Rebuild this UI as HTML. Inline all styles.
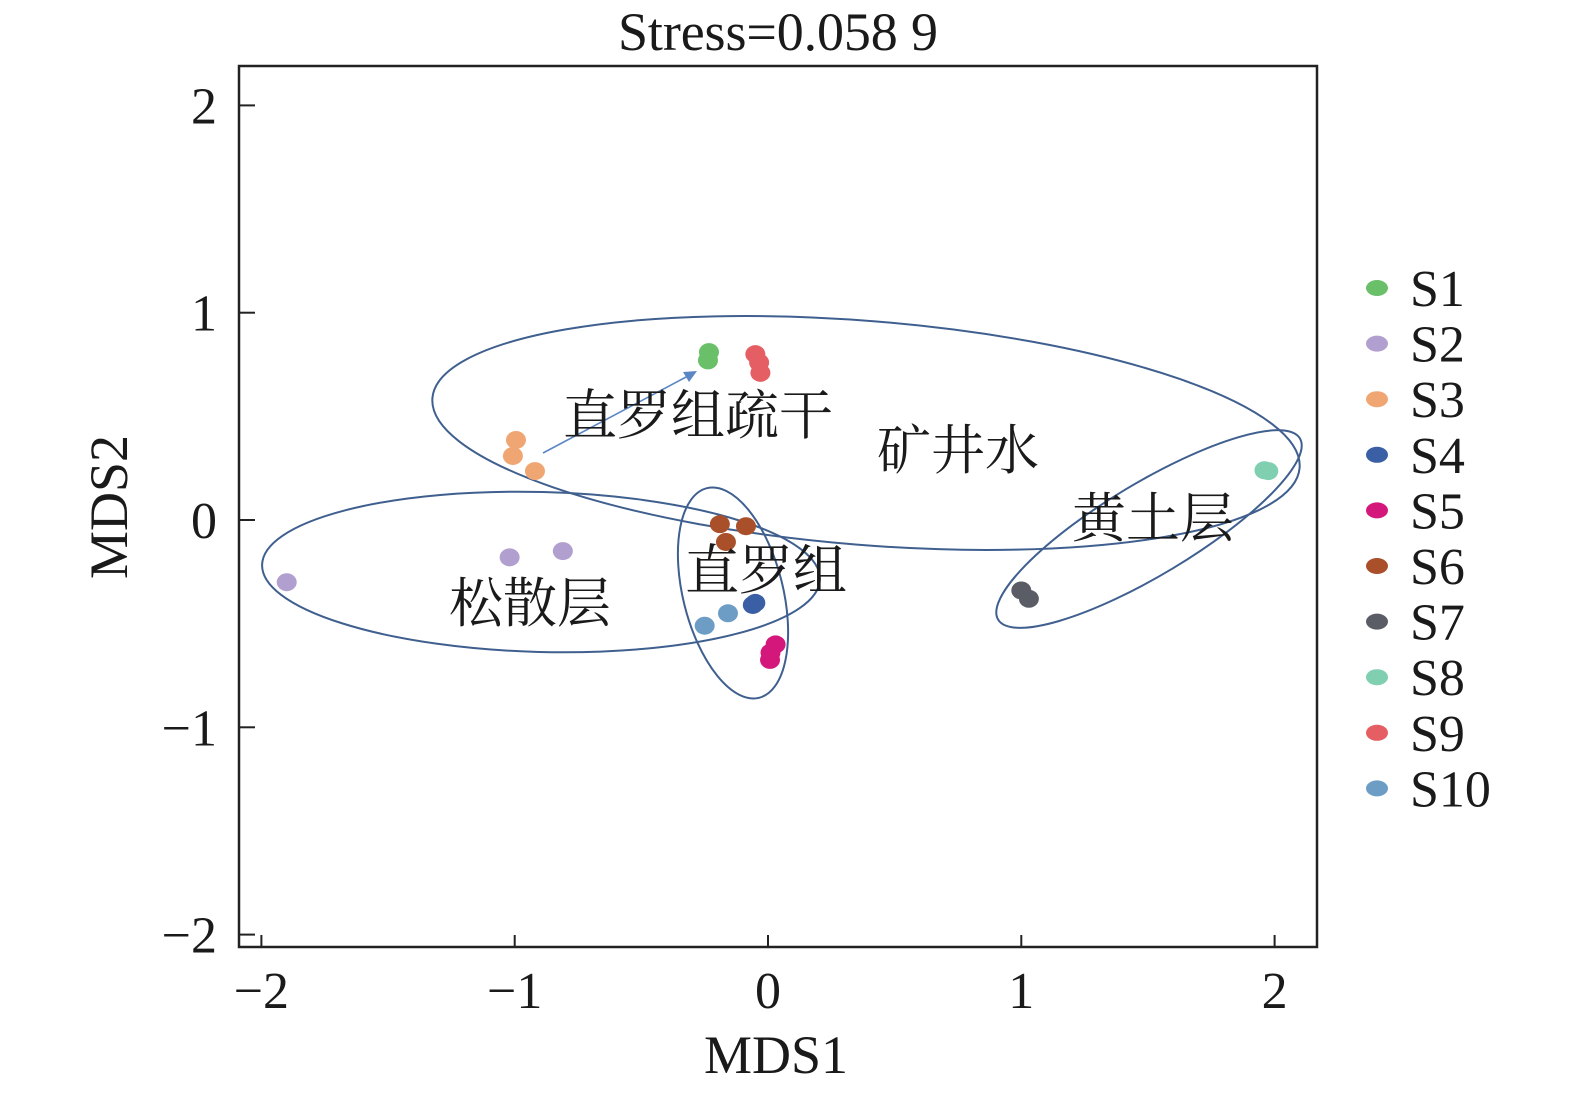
<!DOCTYPE html>
<html><head><meta charset="utf-8"><style>
body{margin:0;background:#fff;width:1575px;height:1098px;overflow:hidden}
svg text{font-family:"Liberation Serif","Noto Serif CJK SC",serif;fill:#1a1a1a}
</style></head><body>
<svg id="chart" width="1575" height="1098" viewBox="0 0 1575 1098" xmlns="http://www.w3.org/2000/svg">
<g id="ell" fill="none" stroke="#3f5f8f" stroke-width="2">
<ellipse cx="866" cy="433" rx="435" ry="112" transform="rotate(4.6 866 433)"/>
<ellipse cx="541" cy="572" rx="279" ry="80" transform="rotate(1.5 541 572)"/>
<ellipse cx="733" cy="593" rx="108" ry="50" transform="rotate(76 733 593)"/>
<ellipse cx="1149" cy="529" rx="176" ry="46" transform="rotate(-31 1149 529)"/>
</g>
<g id="pts"></g>
<line x1="543" y1="453" x2="688" y2="376" stroke="#5b86c4" stroke-width="1.6"/>
<polygon points="697,371 683,372 689,382" fill="#5b86c4"/>
<g font-size="54">
<text x="563" y="434">直罗组疏干</text>
<text x="877" y="469">矿井水</text>
<text x="1072" y="537">黄土层</text>
<text x="685" y="589">直罗组</text>
<text x="449" y="622">松散层</text>
</g>
<rect x="239" y="66" width="1078" height="881" fill="none" stroke="#222" stroke-width="2.5"/>
<g id="axes"></g>
<text x="778" y="50" font-size="54" text-anchor="middle" textLength="320">Stress=0.058 9</text>
<text x="776" y="1073" font-size="54" text-anchor="middle">MDS1</text>
<text transform="translate(127 507) rotate(-90)" font-size="54" text-anchor="middle">MDS2</text>
<g id="legend"></g>
</svg>
<script>
const series = ["S1","S2","S3","S4","S5","S6","S7","S8","S9","S10"];
const colors = ["#6abf69","#b09fcf","#f0a673","#3a5fa5","#d4177a","#a94f2a","#5a5d66","#7fcfb0","#e45e63","#6d9dc5"];
const xVals = [[-0.233,-0.237],[-1.9,-1.02,-0.81],[-0.995,-1.007,-0.92],[-0.06,-0.05],[0.03,0.008,0.01],[-0.19,-0.087,-0.166],[1.0,1.03],[1.975,1.96],[-0.05,-0.035,-0.03],[-0.25,-0.158]];
const yVals = [[0.81,0.77],[-0.30,-0.18,-0.15],[0.386,0.309,0.236],[-0.41,-0.40],[-0.6,-0.675,-0.64],[-0.02,-0.03,-0.106],[-0.34,-0.38],[0.236,0.24],[0.80,0.76,0.71],[-0.51,-0.45]];
const xTicks = [-2,-1,0,1,2];
const yTicks = [2,1,0,-1,-2];
const xTickLabels = ["\u22122","\u22121","0","1","2"];
const yTickLabels = ["2","1","0","\u22121","\u22122"];
const NS="http://www.w3.org/2000/svg";
const sx = v => 768 + v*253.3;
const sy = v => 520 - v*207.3;
function mk(t,a,p){const e=document.createElementNS(NS,t);for(const k in a)e.setAttribute(k,a[k]);p.appendChild(e);return e;}
const pts=document.getElementById('pts');
series.forEach((s,i)=>{xVals[i].forEach((x,j)=>{
 const e=mk('ellipse',{cx:sx(x),cy:sy(yVals[i][j]),rx:10,ry:9,fill:colors[i]},pts);
 
 
});});
const ax=document.getElementById('axes');
xTicks.forEach((t,i)=>{
 const l=mk('line',{x1:sx(t),x2:sx(t),y1:947,y2:935,stroke:'#222','stroke-width':2},ax);
 
 
 const tx=mk('text',{x:sx(t),y:1008,'font-size':52,'text-anchor':'middle'},ax);tx.textContent=xTickLabels[i];
 
 
});
yTicks.forEach((t,i)=>{
 const l=mk('line',{x1:239,x2:255,y1:sy(t),y2:sy(t),stroke:'#222','stroke-width':2},ax);
 
 
 const tx=mk('text',{x:217,y:sy(t)+18,'font-size':52,'text-anchor':'end'},ax);tx.textContent=yTickLabels[i];
 
 
});
const lg=document.getElementById('legend');
series.forEach((s,i)=>{
 const y=288+i*55.6;
 const d=mk('ellipse',{cx:1377,cy:y,rx:11,ry:8,fill:colors[i]},lg);
 
 
 const t=mk('text',{x:1410,y:y+18,'font-size':52},lg);t.textContent=s;
 
 
});
</script>
</body></html>
